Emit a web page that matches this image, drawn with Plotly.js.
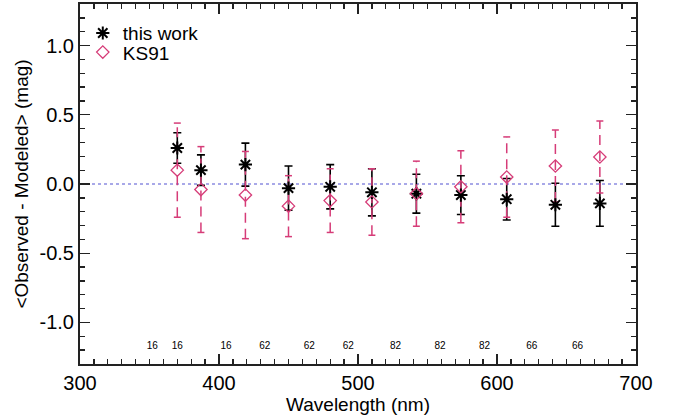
<!DOCTYPE html>
<html>
<head>
<meta charset="utf-8">
<script src="https://cdn.plot.ly/plotly-3.0.1.min.js"></script>
<style>html,body{margin:0;padding:0;background:#fff;}#chart{width:675px;height:419px;}</style>
</head>
<body>
<div id="chart"></div>
<script>
// Wavelengths (nm)
var wavelength = [370, 387, 419, 450, 480, 510, 542, 574, 607, 642, 674];
// this work: mean residual and error
var thisWork    = [0.26, 0.10, 0.14, -0.03, -0.02, -0.06, -0.07, -0.08, -0.11, -0.15, -0.14];
var thisWorkErr = [0.11, 0.11, 0.155, 0.16, 0.16, 0.17, 0.14, 0.14, 0.15, 0.155, 0.165];
// KS91: mean residual and error
var ks91    = [0.10, -0.04, -0.08, -0.16, -0.12, -0.13, -0.07, -0.02, 0.05, 0.13, 0.195];
var ks91Err = [0.34, 0.31, 0.315, 0.22, 0.23, 0.24, 0.235, 0.26, 0.29, 0.26, 0.26];
// sample counts written along the bottom
var countLabels = ["16", "16", "16", "62", "62", "62", "82", "82", "82", "66", "66"];
var countX = [352, 370, 405, 433, 465, 493, 527, 559, 591, 625, 658];
var countY = -1.17;
// y tick labels
var yTickVals = [-1.0, -0.5, 0.0, 0.5, 1.0];
var yTickText = ["-1.0", "-0.5", "0.0", "0.5", "1.0"];

var black = '#000000';
var pink = 'rgb(214,60,120)';
var FONT = 'Liberation Sans, Arial, Helvetica, sans-serif';

// dashed KS91 error bars (vertical parts) and caps, built from the data arrays
var capHalf = 2.5; // nm
var barX = [], barY = [], capX = [], capY = [];
for (var i = 0; i < wavelength.length; i++) {
  var lo = ks91[i] - ks91Err[i], hi = ks91[i] + ks91Err[i];
  barX.push(wavelength[i], wavelength[i], null);
  barY.push(lo, hi, null);
  capX.push(wavelength[i] - capHalf, wavelength[i] + capHalf, null);
  capY.push(lo, lo, null);
  capX.push(wavelength[i] - capHalf, wavelength[i] + capHalf, null);
  capY.push(hi, hi, null);
}

var traces = [
  {
    x: wavelength, y: thisWork, type: 'scatter', mode: 'markers', name: 'this work',
    showlegend: false, hoverinfo: 'skip',
    marker: {symbol: 'asterisk-open', size: 0.1, color: black, line: {color: black, width: 0}},
    error_y: {type: 'data', array: thisWorkErr, visible: true, color: black, thickness: 1.6, width: 4}
  },
  {
    x: barX, y: barY, type: 'scatter', mode: 'lines', showlegend: false, hoverinfo: 'skip',
    line: {color: pink, width: 1.5, dash: '10px,6px'}
  },
  {
    x: capX, y: capY, type: 'scatter', mode: 'lines', showlegend: false, hoverinfo: 'skip',
    line: {color: pink, width: 1.5}
  },
  {
    x: wavelength, y: thisWork, type: 'scatter', mode: 'markers', name: 'this work', legend: 'legend',
    marker: {symbol: 'asterisk-open', size: 11, color: black, line: {color: black, width: 2}}
  },
  {
    x: wavelength, y: ks91, type: 'scatter', mode: 'markers', name: 'KS91', legend: 'legend2',
    marker: {symbol: 'diamond-open', size: 9.5, color: pink, line: {color: pink, width: 1.3}}
  },
  {
    x: countX, y: countX.map(function(){return countY;}), type: 'scatter', mode: 'text',
    text: countLabels, textposition: 'middle center', showlegend: false, hoverinfo: 'skip',
    textfont: {family: FONT, size: 10, color: black}
  }
];

var axisCommon = {
  showgrid: false, zeroline: false, showline: true, linecolor: '#222', linewidth: 2,
  mirror: 'allticks', ticks: 'inside', ticklen: 10, tickwidth: 1.3, tickcolor: '#222',
  tickfont: {family: FONT, size: 20, color: black}
};

var legendCommon = {xanchor: 'left', yanchor: 'middle', bgcolor: 'rgba(0,0,0,0)',
  font: {family: FONT, size: 19, color: black}, itemwidth: 30, tracegroupgap: 0, borderwidth: 0};

var layout = {
  width: 675, height: 419,
  margin: {l: 80, r: 39, t: 4, b: 55},
  paper_bgcolor: '#fff', plot_bgcolor: '#fff',
  font: {family: FONT, color: black},
  showlegend: true,
  legend: Object.assign({}, legendCommon, {x: 0.005, y: 0.919}),
  legend2: Object.assign({}, legendCommon, {x: 0.005, y: 0.866}),
  xaxis: Object.assign({}, axisCommon, {
    range: [300, 700], dtick: 100, tick0: 300,
    minor: {dtick: 10, ticks: 'inside', ticklen: 5, tickwidth: 1.3, tickcolor: '#222'},
    title: {text: 'Wavelength (nm)', font: {family: FONT, size: 19, color: black}, standoff: 4}
  }),
  yaxis: Object.assign({}, axisCommon, {
    range: [-1.3, 1.3], tickmode: 'array', tickvals: yTickVals, ticktext: yTickText,
    minor: {dtick: 0.1, tick0: 0, ticks: 'inside', ticklen: 5, tickwidth: 1.3, tickcolor: '#222'},
    title: {text: '<Observed - Modeled> (mag)', font: {family: FONT, size: 19, color: black}, standoff: 6}
  }),
  shapes: [
    {type: 'line', xref: 'paper', x0: 0, x1: 1, yref: 'y', y0: 0, y1: 0,
     line: {color: 'rgb(140,140,225)', width: 1.5, dash: 'dot'}, layer: 'below'}
  ]
};

Plotly.newPlot('chart', traces, layout, {staticPlot: true, displayModeBar: false});
</script>
</body>
</html>
